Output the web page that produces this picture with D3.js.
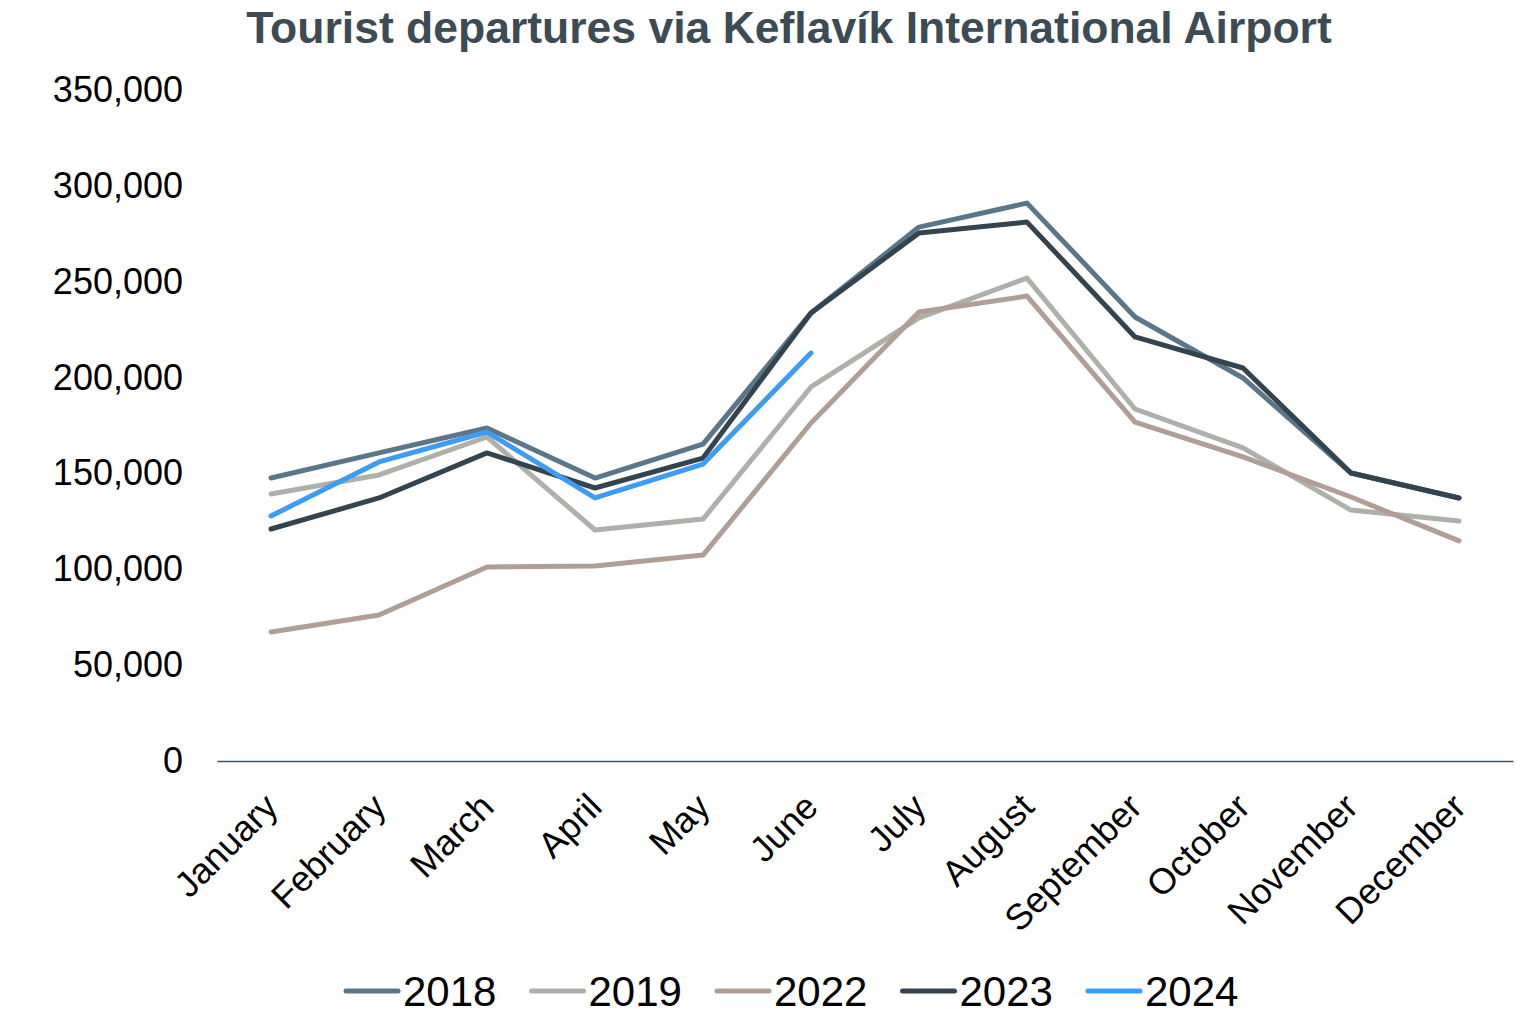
<!DOCTYPE html>
<html>
<head>
<meta charset="utf-8">
<script src="https://cdn.jsdelivr.net/npm/d3@7"></script>
<style>
  body { margin: 0; background: #fff; }
  text { font-family: "Liberation Sans", Arial, sans-serif; }
</style>
</head>
<body>
<div id="viz"></div>
<script>
var months = ["January","February","March","April","May","June","July","August","September","October","November","December"];
var years = ["2018","2019","2022","2023","2024"];
var colors = ["#5b7689","#aeb0aa","#b09f97","#34444f","#3d9cf5"];

// monthly tourist departures
var v2018 = [147600,160700,173700,147600,165300,233700,278500,291000,231600,199800,150200,137200];
var v2019 = [139300,149200,169000,120500,126200,195100,231100,251900,183600,163300,130900,125200];
var v2022 = [67300,76200,101200,101700,107400,176300,234200,242500,176800,158600,137700,114800];
var v2023 = [121000,137200,160700,142400,158000,233700,275400,281100,221200,205000,150200,137200];
var v2024 = [127800,156000,171600,137200,154900,212800];
var yTicks = [0,50000,100000,150000,200000,250000,300000,350000];

var series = [v2018, v2019, v2022, v2023, v2024];

var W = 1537, H = 1017;
var mLeft = 217, mRight = 1513, mTop = 90, mBottom = 761;

var svg = d3.select("#viz").append("svg")
    .attr("width", W)
    .attr("height", H);

var x = d3.scaleBand().domain(months).range([mLeft, mRight]);
var y = d3.scaleLinear().domain([0, 350000]).range([mBottom, mTop]);

// title
svg.append("text")
    .attr("x", 789)
    .attr("y", 43)
    .attr("text-anchor", "middle")
    .style("font-size", "44.5px")
    .style("font-weight", "bold")
    .style("fill", "#3d4b55")
    .text("Tourist departures via Keflavík International Airport");

// y axis, labels only
var yAxis = d3.axisLeft(y).tickValues(yTicks).tickSize(0).tickPadding(0)
    .tickFormat(function(d){ return d3.format(",")(d); });
var gy = svg.append("g").attr("transform", "translate(183,0)").call(yAxis);
gy.select(".domain").remove();
gy.selectAll("text").style("font-size", "36px").style("fill", "#000")
    .style("font-family", "'Liberation Sans', Arial, sans-serif");

// x axis
var xAxis = d3.axisBottom(x).tickSize(0).tickPadding(0);
var gx = svg.append("g").attr("transform", "translate(0," + mBottom + ")").call(xAxis);
gx.select(".domain").attr("stroke", "#44555f").attr("stroke-width", 1.3);
gx.selectAll("text")
    .style("font-size", "36px").style("fill", "#000")
    .style("font-family", "'Liberation Sans', Arial, sans-serif")
    .attr("text-anchor", "end")
    .attr("dy", "0")
    .attr("transform", "translate(9,48) rotate(-45)");

// lines
var line = d3.line()
    .x(function(d, i){ return x(months[i]) + x.bandwidth() / 2; })
    .y(function(d){ return y(d); });

svg.append("g").selectAll("path")
    .data(series)
    .enter().append("path")
    .attr("d", line)
    .attr("fill", "none")
    .attr("stroke", function(d, i){ return colors[i]; })
    .attr("stroke-width", 5)
    .attr("stroke-linecap", "round")
    .attr("stroke-linejoin", "round");

// legend
var lg = svg.append("g").selectAll("g")
    .data(years)
    .enter().append("g")
    .attr("transform", function(d, i){ return "translate(" + (346 + i * 185.5) + ",991)"; });
lg.append("line")
    .attr("x1", 0).attr("x2", 52)
    .attr("stroke", function(d, i){ return colors[i]; })
    .attr("stroke-width", 5)
    .attr("stroke-linecap", "round");
lg.append("text")
    .attr("x", 57)
    .attr("dy", "0.35em")
    .style("font-size", "42px")
    .text(function(d){ return d; });
</script>
</body>
</html>
